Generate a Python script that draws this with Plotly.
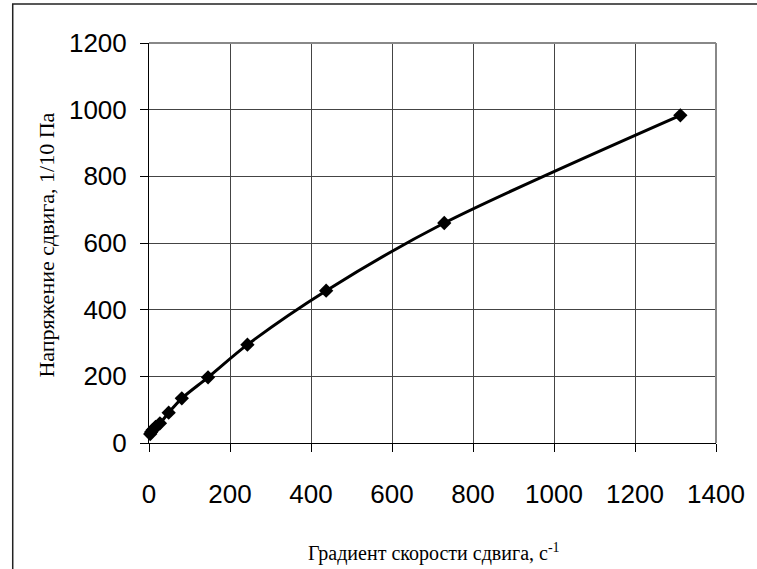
import plotly.graph_objects as go

shear_rate = [3.0, 5.4, 9.0, 16.2, 27.0, 48.6, 81.0, 145.8, 243.0, 437.4, 729.0, 1312.0]
shear_stress = [27, 33, 39, 48, 59, 91, 134, 197, 295, 457, 660, 983]

x_ticks = [0, 200, 400, 600, 800, 1000, 1200, 1400]
y_ticks = [0, 200, 400, 600, 800, 1000, 1200]

x_title = "Градиент скорости сдвига, с<sup>-1</sup>"
y_title = "Напряжение сдвига, 1/10 Па"

W, H = 757, 569
L, R, T, B = 149, 38, 43, 126
pw, ph = W - L - R, H - T - B

fig = go.Figure()
fig.add_trace(go.Scatter(
    x=shear_rate, y=shear_stress, mode="lines+markers",
    line=dict(color="black", width=3, shape="spline", smoothing=0.8),
    marker=dict(symbol="diamond", size=11, color="black"),
    showlegend=False, cliponaxis=False,
))

tickfont = dict(family="Liberation Sans, Arial, sans-serif", size=26, color="black")
fig.update_xaxes(
    range=[0, 1400], tickvals=x_ticks, ticktext=[str(v) for v in x_ticks],
    showgrid=True, gridcolor="#444444", gridwidth=1.3,
    showline=True, linecolor="black", linewidth=1, mirror=False,
    ticks="outside", ticklen=8, tickcolor="black", tickfont=tickfont,
    ticklabelstandoff=20, zeroline=False,
)
fig.update_yaxes(
    range=[0, 1200], tickvals=y_ticks, ticktext=[str(v) for v in y_ticks],
    showgrid=True, gridcolor="#444444", gridwidth=1.3,
    showline=True, linecolor="black", linewidth=1,
    ticks="outside", ticklen=8, tickcolor="black", tickfont=tickfont,
    ticklabelstandoff=8, zeroline=False,
)

def px(xp):
    return (xp - L) / pw

def py(yp):
    return (H - B - yp) / ph

shapes = [
    dict(type="line", xref="paper", yref="paper", x0=0, x1=1, y0=1, y1=1,
         line=dict(color="#888888", width=2)),
    dict(type="line", xref="paper", yref="paper", x0=1, x1=1, y0=0, y1=1,
         line=dict(color="#888888", width=2)),
    dict(type="rect", xref="paper", yref="paper",
         x0=px(12), x1=px(W + 20), y0=py(H + 20), y1=py(4),
         line=dict(color="#222222", width=1.5), layer="below"),
]

serif = "Liberation Serif, Times New Roman, serif"
annotations = [
    dict(text=x_title, xref="paper", yref="paper", x=px(436), y=py(552),
         showarrow=False, xanchor="center", yanchor="middle",
         font=dict(family=serif, size=20, color="black")),
    dict(text=y_title, xref="paper", yref="paper", x=px(45), y=py(245),
         showarrow=False, xanchor="center", yanchor="middle", textangle=-90,
         font=dict(family=serif, size=22, color="black")),
]

fig.update_layout(
    width=W, height=H,
    margin=dict(l=L, r=R, t=T, b=B),
    paper_bgcolor="white", plot_bgcolor="white",
    shapes=shapes, annotations=annotations,
)

fig.write_html("out.html")
